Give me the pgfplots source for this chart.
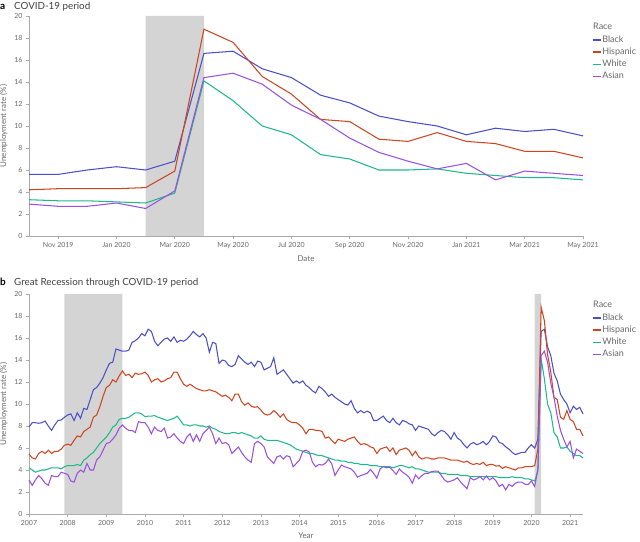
\documentclass[border=0pt]{standalone}
\usepackage{pgfplots}
\pgfplotsset{compat=1.18}
\usepackage{pgfplotstable}
\usepackage{fontspec}
\setmainfont{Lato}
\definecolor{cB}{RGB}{75,80,200}
\definecolor{cH}{RGB}{207,69,32}
\definecolor{cW}{RGB}{29,185,138}
\definecolor{cA}{RGB}{155,80,224}
\definecolor{cS}{RGB}{212,212,212}
\definecolor{cT}{RGB}{105,105,105}
\definecolor{cL}{RGB}{170,170,170}

% Monthly series, Jan 2007 ... May 2021
\pgfplotstableread[row sep=\\]{
y\\
7.9\\8.3\\8.3\\8.25\\8.3\\8.45\\8.0\\7.6\\8.1\\8.5\\8.55\\8.8\\
9.0\\9.1\\8.5\\9.2\\8.7\\9.6\\9.5\\10.4\\11.3\\11.5\\11.9\\12.4\\
13.1\\13.7\\13.8\\15.0\\14.9\\14.8\\14.8\\14.9\\15.6\\15.75\\16.0\\16.4\\
16.2\\16.8\\16.6\\15.7\\15.3\\15.6\\15.9\\16.0\\15.7\\16.1\\15.6\\15.8\\
15.7\\15.9\\16.2\\16.6\\16.3\\16.1\\16.4\\16.0\\14.7\\15.6\\15.5\\13.7\\
14.0\\13.9\\13.5\\13.4\\13.6\\14.4\\14.1\\13.8\\13.6\\13.8\\13.4\\13.9\\
13.8\\13.1\\13.25\\13.4\\14.2\\12.7\\12.9\\13.1\\12.7\\12.3\\11.9\\12.1\\
11.9\\12.1\\11.7\\11.5\\11.2\\11.0\\11.6\\11.4\\11.1\\10.7\\10.9\\10.6\\
10.4\\10.2\\10.0\\9.9\\10.3\\9.6\\9.2\\9.4\\9.2\\9.35\\9.2\\8.5\\
8.5\\8.7\\8.9\\8.5\\8.3\\8.7\\8.3\\8.1\\8.5\\8.4\\8.2\\8.1\\
7.6\\8.0\\7.9\\7.8\\7.7\\7.3\\7.1\\7.4\\7.6\\7.5\\7.2\\6.8\\
7.4\\6.9\\6.7\\6.3\\6.0\\6.35\\6.5\\6.3\\6.4\\6.6\\6.3\\6.6\\
7.1\\7.0\\6.5\\6.4\\6.1\\5.9\\5.6\\5.4\\5.5\\5.6\\5.6\\6.0\\
6.3\\6.0\\6.8\\16.6\\16.8\\15.2\\14.4\\12.8\\12.1\\10.9\\10.4\\10.0\\
9.2\\9.8\\9.5\\9.7\\9.1\\
}\tB
\pgfplotstableread[row sep=\\]{
y\\
5.45\\5.1\\5.0\\5.5\\5.7\\5.5\\5.8\\5.5\\5.7\\5.7\\5.9\\6.25\\
6.35\\6.25\\6.7\\7.1\\7.0\\7.5\\7.7\\7.9\\8.8\\9.0\\9.75\\10.7\\
11.5\\11.7\\12.2\\12.0\\12.55\\13.0\\12.6\\12.7\\12.4\\12.8\\12.7\\12.75\\
12.9\\12.6\\12.0\\12.2\\12.3\\12.0\\12.1\\12.3\\12.4\\12.9\\12.9\\12.3\\
11.8\\11.6\\11.8\\11.6\\11.4\\11.3\\11.2\\11.2\\11.3\\11.2\\11.1\\10.9\\
10.7\\10.8\\10.6\\10.3\\10.9\\10.9\\10.2\\9.9\\10.1\\9.8\\9.7\\9.75\\
9.45\\9.1\\9.0\\9.1\\9.4\\9.15\\8.8\\9.1\\8.6\\8.4\\8.3\\8.3\\
8.1\\7.8\\7.3\\7.7\\7.7\\7.6\\7.6\\7.5\\6.9\\7.0\\6.7\\6.4\\
6.8\\6.7\\6.6\\6.8\\6.9\\7.0\\6.6\\6.3\\6.4\\6.3\\6.1\\6.0\\
5.5\\5.9\\6.0\\6.1\\5.7\\6.0\\5.4\\5.8\\5.9\\6.0\\5.8\\5.3\\
5.7\\5.2\\5.0\\5.1\\5.1\\5.0\\5.0\\5.1\\5.1\\5.1\\5.0\\4.9\\
4.9\\4.9\\4.8\\4.7\\4.8\\4.6\\4.5\\4.6\\4.5\\4.7\\4.4\\4.5\\
4.5\\4.35\\4.4\\4.15\\4.3\\4.2\\4.1\\4.0\\4.2\\4.2\\4.3\\4.3\\
4.3\\4.4\\5.9\\18.8\\17.6\\14.5\\12.9\\10.6\\10.4\\8.8\\8.6\\9.4\\
8.6\\8.4\\7.7\\7.7\\7.1\\
}\tH
\pgfplotstableread[row sep=\\]{
y\\
4.2\\4.0\\3.8\\3.9\\4.0\\4.0\\4.1\\4.2\\4.2\\4.2\\4.1\\4.3\\
4.4\\4.4\\4.4\\4.5\\4.4\\4.9\\5.1\\5.4\\5.6\\6.0\\6.4\\6.7\\
7.0\\7.4\\7.9\\8.1\\8.6\\8.7\\8.7\\8.8\\9.0\\9.2\\9.2\\9.1\\
8.85\\8.9\\8.9\\8.95\\8.8\\8.7\\8.6\\8.5\\8.6\\8.7\\8.9\\8.5\\
8.1\\8.1\\8.0\\8.1\\8.1\\8.0\\8.0\\7.9\\8.0\\7.8\\7.7\\7.5\\
7.4\\7.3\\7.3\\7.4\\7.4\\7.3\\7.4\\7.3\\7.2\\7.1\\6.9\\6.9\\
7.1\\6.8\\6.7\\6.7\\6.7\\6.7\\6.6\\6.5\\6.4\\6.3\\6.1\\5.9\\
5.8\\5.7\\5.6\\5.5\\5.5\\5.4\\5.3\\5.3\\5.2\\5.1\\5.0\\4.9\\
4.9\\4.8\\4.8\\4.7\\4.7\\4.6\\4.6\\4.5\\4.5\\4.5\\4.4\\4.4\\
4.4\\4.3\\4.3\\4.3\\4.3\\4.2\\4.3\\4.4\\4.4\\4.3\\4.2\\4.3\\
4.1\\4.1\\4.0\\3.9\\3.8\\3.8\\3.8\\3.8\\3.7\\3.7\\3.6\\3.6\\
3.6\\3.6\\3.5\\3.5\\3.5\\3.4\\3.4\\3.4\\3.4\\3.4\\3.4\\3.4\\
3.4\\3.4\\3.3\\3.3\\3.3\\3.3\\3.4\\3.3\\3.3\\3.3\\3.2\\3.2\\
3.1\\3.0\\3.9\\14.1\\12.3\\10.0\\9.2\\7.4\\7.0\\6.0\\6.0\\6.1\\
5.7\\5.5\\5.3\\5.3\\5.1\\
}\tW
\pgfplotstableread[row sep=\\]{
y\\
3.1\\2.6\\3.1\\3.5\\3.2\\2.8\\2.6\\3.5\\3.4\\3.4\\3.8\\3.7\\
3.6\\3.0\\2.9\\3.7\\4.0\\3.8\\4.6\\4.0\\4.0\\4.9\\5.2\\5.8\\
6.4\\6.5\\6.8\\7.2\\7.8\\8.1\\7.8\\7.6\\7.6\\7.4\\8.4\\8.3\\
8.3\\7.9\\7.3\\7.9\\7.6\\7.5\\7.8\\6.9\\7.0\\7.3\\6.9\\6.6\\
6.4\\7.0\\7.3\\6.6\\7.2\\6.6\\7.3\\7.6\\7.9\\7.3\\6.4\\6.9\\
6.4\\6.5\\6.3\\5.5\\5.8\\6.1\\5.6\\5.2\\4.9\\4.7\\6.4\\6.6\\
6.4\\6.1\\5.2\\4.9\\4.6\\5.2\\5.3\\5.0\\5.3\\5.2\\4.3\\4.6\\
4.9\\5.7\\5.8\\5.65\\4.7\\4.3\\4.5\\4.45\\4.6\\5.0\\4.55\\3.5\\
4.0\\4.45\\4.3\\4.2\\4.1\\3.8\\3.35\\3.5\\3.6\\3.7\\4.05\\3.7\\
3.25\\4.1\\4.3\\4.2\\4.25\\3.95\\3.6\\4.1\\3.8\\3.6\\3.35\\2.8\\
3.55\\3.2\\3.5\\3.7\\3.7\\3.85\\3.9\\3.9\\3.5\\3.1\\2.9\\3.0\\
3.1\\3.3\\2.9\\2.6\\2.3\\3.3\\3.1\\3.2\\3.4\\3.1\\3.45\\3.1\\
3.3\\3.0\\2.5\\2.7\\2.2\\2.7\\2.5\\2.8\\2.9\\2.9\\2.7\\2.7\\
3.0\\2.5\\4.1\\14.4\\14.8\\13.8\\11.9\\10.6\\8.9\\7.6\\6.8\\6.1\\
6.6\\5.1\\5.9\\5.7\\5.5\\
}\tA

\pgfplotsset{
  legend image code/.code={\draw[#1, line width=1.2pt] (0pt,0pt) -- (8pt,0pt);},
  panel/.style={
    scale only axis, width=554pt, height=220pt,
    ymin=0, ymax=20, ytick={0,2,...,20},
    axis x line*=bottom, axis y line*=left,
    axis line style={cL, line width=0.6pt},
    tick style={cL, line width=0.6pt},
    tick align=outside, major tick length=3pt,
    ticklabel style={font=\fontsize{7}{8}\selectfont, text=cT},
    /pgf/number format/assume math mode=true,
    /pgf/number format/1000 sep={},
    ylabel={Unemployment rate (\%)},
    label style={font=\fontsize{8}{9.5}\selectfont, text=cT},
    clip=false,
    legend style={at={(rel axis cs:1.016,0.915)}, anchor=north west,
      draw=none, fill=none, inner sep=0pt, row sep=2.0pt,
      font=\fontsize{9}{10.5}\selectfont, text=cT,
      nodes={inner sep=1pt}},
    legend cell align=left,
    every axis plot/.append style={line width=1.05pt},
  }
}

\begin{document}
\begin{tikzpicture}
\useasboundingbox (0,0) rectangle (640pt,541pt);

\node[anchor=base west, inner sep=0pt, font=\fontsize{10}{12}\selectfont\bfseries] at (0pt,531pt) {a};
\node[anchor=base west, inner sep=0pt, font=\fontsize{9.8}{12}\selectfont, text=black!75] at (14pt,531pt) {COVID-19 period};
\node[anchor=base west, inner sep=0pt, font=\fontsize{10}{12}\selectfont\bfseries] at (0pt,255pt) {b};
\node[anchor=base west, inner sep=0pt, font=\fontsize{9.8}{12}\selectfont, text=black!75] at (14pt,255pt) {Great Recession through COVID-19 period};

% Panel a
\begin{axis}[panel, at={(29pt,305pt)}, anchor=south west,
  xmin=0, xmax=19, xtick={1,3,...,19},
  xticklabels={Nov 2019,Jan 2020,Mar 2020,May 2020,Jul 2020,Sep 2020,Nov 2020,Jan 2021,Mar 2021,May 2021},
  xlabel={Date}]
\addplot[draw=none, fill=cS, forget plot, line width=0pt] coordinates {(4,0) (4,20) (6,20) (6,0)} \closedcycle;
\addplot[cB] coordinates {(0,5.6)(1,5.6)(2,6.0)(3,6.3)(4,6.0)(5,6.8)(6,16.6)(7,16.8)(8,15.2)(9,14.4)(10,12.8)(11,12.1)(12,10.9)(13,10.4)(14,10.0)(15,9.2)(16,9.8)(17,9.5)(18,9.7)(19,9.1)};
\addlegendentry{Black}
\addplot[cH] coordinates {(0,4.2)(1,4.3)(2,4.3)(3,4.3)(4,4.4)(5,5.9)(6,18.8)(7,17.6)(8,14.5)(9,12.9)(10,10.6)(11,10.4)(12,8.8)(13,8.6)(14,9.4)(15,8.6)(16,8.4)(17,7.7)(18,7.7)(19,7.1)};
\addlegendentry{Hispanic}
\addplot[cW] coordinates {(0,3.3)(1,3.2)(2,3.2)(3,3.1)(4,3.0)(5,3.9)(6,14.1)(7,12.3)(8,10.0)(9,9.2)(10,7.4)(11,7.0)(12,6.0)(13,6.0)(14,6.1)(15,5.7)(16,5.5)(17,5.3)(18,5.3)(19,5.1)};
\addlegendentry{White}
\addplot[cA] coordinates {(0,2.9)(1,2.7)(2,2.7)(3,3.0)(4,2.5)(5,4.1)(6,14.4)(7,14.8)(8,13.8)(9,11.9)(10,10.6)(11,8.9)(12,7.6)(13,6.8)(14,6.1)(15,6.6)(16,5.1)(17,5.9)(18,5.7)(19,5.5)};
\addlegendentry{Asian}
\node[anchor=west, inner sep=0pt, font=\fontsize{9}{10.5}\selectfont, text=cT] at (rel axis cs:1.018,0.955) {Race};
\end{axis}

% Panel b
\begin{axis}[panel, at={(29pt,27pt)}, anchor=south west,
  xmin=2007, xmax=2021.3333, xtick={2007,2008,...,2021},
  xticklabel style={/pgf/number format/precision=0},
  xlabel={Year}]
\addplot[draw=none, fill=cS, forget plot, line width=0pt] coordinates {(2007.9167,0) (2007.9167,20) (2009.4167,20) (2009.4167,0)} \closedcycle;
\addplot[draw=none, fill=cS, forget plot, line width=0pt] coordinates {(2020.0833,0) (2020.0833,20) (2020.25,20) (2020.25,0)} \closedcycle;
\addplot[cB] table[x expr=2007+\coordindex/12, y=y] {\tB};
\addlegendentry{Black}
\addplot[cH] table[x expr=2007+\coordindex/12, y=y] {\tH};
\addlegendentry{Hispanic}
\addplot[cW] table[x expr=2007+\coordindex/12, y=y] {\tW};
\addlegendentry{White}
\addplot[cA] table[x expr=2007+\coordindex/12, y=y] {\tA};
\addlegendentry{Asian}
\node[anchor=west, inner sep=0pt, font=\fontsize{9}{10.5}\selectfont, text=cT] at (rel axis cs:1.018,0.955) {Race};
\end{axis}
\end{tikzpicture}
\end{document}
